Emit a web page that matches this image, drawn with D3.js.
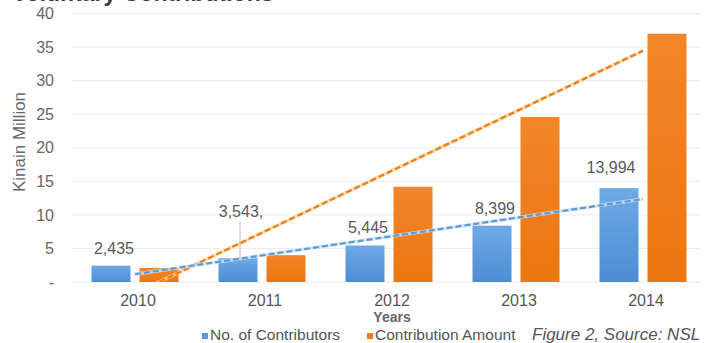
<!DOCTYPE html>
<html>
<head>
<meta charset="utf-8">
<script src="https://cdn.jsdelivr.net/npm/d3@7"></script>
<style>
  html, body { margin: 0; padding: 0; background: #fff; }
  svg { display: block; }
  text { font-family: "Liberation Sans", Arial, Helvetica, sans-serif; }
</style>
</head>
<body>
<svg id="chart" width="705" height="343"></svg>
<script>
// Voluntary contributions, 2010–2014
const years = ["2010", "2011", "2012", "2013", "2014"];
const seriesNames = ["No. of Contributors", "Contribution Amount"];
// contributors (thousands of people) and amount (Kina, millions)
const contributors = [2.435, 3.543, 5.445, 8.399, 13.994];
const amount = [2.1, 4.0, 14.2, 24.6, 37.0];
const contributorLabels = ["2,435", "3,543,", "5,445", "8,399", "13,994"];
const yTicks = [0, 5, 10, 15, 20, 25, 30, 35, 40];

const svg = d3.select("#chart");
const W = 705, H = 343;
const plot = { left: 71.5, right: 706.5, top: 13.6, bottom: 282 };

const colors = { blue: "#5b9bd5", orange: "#ef7d16" };

// gradients for the columns
const defs = svg.append("defs");
const gBlue = defs.append("linearGradient").attr("id", "gBlue")
  .attr("x1", 0).attr("y1", 0).attr("x2", 0).attr("y2", 1);
gBlue.append("stop").attr("offset", "0%").attr("stop-color", "#6eaae6");
gBlue.append("stop").attr("offset", "100%").attr("stop-color", "#4e8cd3");
const gOrange = defs.append("linearGradient").attr("id", "gOrange")
  .attr("x1", 0).attr("y1", 0).attr("x2", 0).attr("y2", 1);
gOrange.append("stop").attr("offset", "0%").attr("stop-color", "#f2862a");
gOrange.append("stop").attr("offset", "100%").attr("stop-color", "#ec7610");

defs.append("clipPath").attr("id", "plotClip")
  .append("rect")
  .attr("x", plot.left).attr("y", 0)
  .attr("width", plot.right - plot.left).attr("height", plot.bottom);

// scales
const x0 = d3.scaleBand().domain(years).range([plot.left, plot.right]).padding(0);
const x1 = d3.scaleBand().domain(seriesNames)
  .range([20, x0.bandwidth() - 20]).paddingInner(0.1875).paddingOuter(0);
const y = d3.scaleLinear().domain([0, 40]).range([plot.bottom, plot.top]);

// title (runs off the top edge)
svg.append("text")
  .attr("x", 12).attr("y", 1)
  .attr("font-size", 23).attr("font-weight", "bold").attr("fill", "#3a3a3a")
  .text("Voluntary Contributions");

// gridlines
svg.append("g").selectAll("line").data(yTicks).join("line")
  .attr("x1", 72).attr("x2", 700)
  .attr("y1", d => y(d)).attr("y2", d => y(d))
  .attr("stroke", "#ebebeb").attr("stroke-width", 1);

// y axis labels
const yAxis = d3.axisLeft(y).tickValues(yTicks)
  .tickFormat(d => d === 0 ? "-" : d3.format("d")(d))
  .tickSize(0).tickPadding(0);
svg.append("g").attr("transform", "translate(54,0)").call(yAxis)
  .call(g => g.select(".domain").remove())
  .call(g => g.selectAll("text")
    .attr("font-size", 16).attr("fill", "#666")
    .attr("font-family", "'Liberation Sans', Arial, sans-serif"));

svg.append("text")
  .attr("transform", `translate(25,142) rotate(-90)`)
  .attr("text-anchor", "middle")
  .attr("font-size", 17).attr("fill", "#666")
  .text("Kinain Million");

// x axis labels
const xAxis = d3.axisBottom(x0).tickSize(0).tickPadding(0);
svg.append("g").attr("transform", `translate(3,${295})`).call(xAxis)
  .call(g => g.select(".domain").remove())
  .call(g => g.selectAll("text")
    .attr("font-size", 16).attr("fill", "#555")
    .attr("font-family", "'Liberation Sans', Arial, sans-serif"));

svg.append("text")
  .attr("x", 392).attr("y", 322)
  .attr("text-anchor", "middle")
  .attr("font-size", 14).attr("font-weight", "bold").attr("fill", "#666")
  .text("Years");

// columns
const rows = years.map((yr, i) => ({ year: yr, vals: [contributors[i], amount[i]] }));
const groups = svg.append("g").selectAll("g").data(rows).join("g")
  .attr("transform", d => `translate(${x0(d.year)},0)`);
groups.selectAll("rect")
  .data(d => d.vals.map((v, k) => ({ key: seriesNames[k], v, k })))
  .join("rect")
  .attr("x", d => x1(d.key))
  .attr("width", x1.bandwidth())
  .attr("y", d => y(d.v))
  .attr("height", d => y(0) - y(d.v))
  .attr("fill", d => d.k === 0 ? "url(#gBlue)" : "url(#gOrange)");

// linear trend lines (least squares over category index)
function linearFit(vals) {
  const n = vals.length;
  const xs = d3.range(n);
  const mx = d3.mean(xs), my = d3.mean(vals);
  const slope = d3.sum(xs, (xi, i) => (xi - mx) * (vals[i] - my)) /
                d3.sum(xs, xi => (xi - mx) * (xi - mx));
  const icpt = my - slope * mx;
  return i => icpt + slope * i;
}
const cx = i => x0(years[i]) + x0.bandwidth() / 2;
const trendLine = d3.line().x(d => cx(d[0])).y(d => y(d[1]));
const trends = svg.append("g").attr("clip-path", "url(#plotClip)");

[[amount, colors.orange, "#f6d29a"], [contributors, colors.blue, "#cfe0f2"]]
  .forEach(([vals, c, halo]) => {
    const f = linearFit(vals);
    const pts = [[0, f(0)], [vals.length - 1, f(vals.length - 1)]];
    trends.append("path").attr("d", trendLine(pts))
      .attr("fill", "none").attr("stroke", halo).attr("stroke-width", 3.5)
      .attr("opacity", 0.8);
    trends.append("path").attr("d", trendLine(pts))
      .attr("fill", "none").attr("stroke", c).attr("stroke-width", 2.2)
      .attr("stroke-dasharray", "6,3");
  });

// data labels for contributors
const blueX = i => x0(years[i]) + x1(seriesNames[0]) + x1.bandwidth() / 2;
contributorLabels.forEach((lab, i) => {
  const top = y(contributors[i]);
  const lifted = i === 1;
  const ly = lifted ? top - 41 : top - 12 - (i === 4 ? 3 : 0);
  if (lifted) {
    svg.append("line")
      .attr("x1", blueX(i) + 2).attr("x2", blueX(i) + 2)
      .attr("y1", ly + 4).attr("y2", top)
      .attr("stroke", "#bbb").attr("stroke-width", 1);
  }
  svg.append("text")
    .attr("x", blueX(i) + (i === 4 ? -8 : 3)).attr("y", ly)
    .attr("text-anchor", "middle")
    .attr("font-size", 16).attr("fill", "#595959")
    .text(lab);
});

// legend
const legend = [
  { name: seriesNames[0], color: "#5b9bd5", x: 202 },
  { name: seriesNames[1], color: colors.orange, x: 367 }
];
const lg = svg.append("g").selectAll("g").data(legend).join("g")
  .attr("transform", d => `translate(${d.x},333)`);
lg.append("rect").attr("width", 6).attr("height", 6).attr("fill", d => d.color);
lg.append("text").attr("x", 8).attr("y", 7)
  .attr("font-size", 15.5).attr("fill", "#555")
  .text(d => d.name);

svg.append("text")
  .attr("x", 532).attr("y", 340)
  .attr("font-size", 17).attr("font-style", "italic").attr("fill", "#555")
  .text("Figure 2, Source: NSL");
</script>
</body>
</html>
